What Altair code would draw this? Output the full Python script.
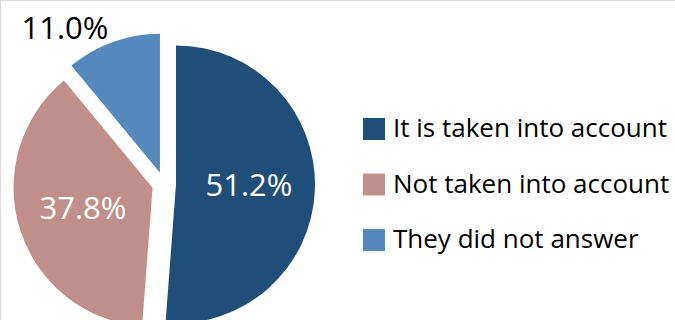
import altair as alt
import pandas as pd

categories = ["It is taken into account", "Not taken into account", "They did not answer"]
shares = [51.2, 37.8, 11.0]
labels = ["51.2%", "37.8%", "11.0%"]
colors = ["#1f4e79", "#c08f89", "#5589be"]
order = [0, 1, 2]

df = pd.DataFrame({"category": categories, "share": shares, "label": labels, "order": order})

CX, CY = 164, 184      # pie centre (pixels)
R = 139                # outer radius
EXPLODE = 12           # explode distance
R_IN = 73              # inner label radius
R_OUT = 152            # outer label radius
FONT = "Open Sans"

base = (
    alt.Chart(df)
    .transform_window(cum="sum(share)", sort=[alt.SortField("order")], frame=[None, 0])
    .transform_joinaggregate(total="sum(share)")
    .transform_calculate(
        a0="2*PI*(datum.cum - datum.share)/datum.total",
        a1="2*PI*datum.cum/datum.total",
    )
    .transform_calculate(mid="(datum.a0 + datum.a1)/2")
    .transform_calculate(
        cx=f"{CX} + {EXPLODE}*sin(datum.mid)",
        cy=f"{CY} - {EXPLODE}*cos(datum.mid)",
    )
    .transform_calculate(
        lx_in=f"datum.cx + {R_IN}*sin(datum.mid)",
        ly_in=f"datum.cy - {R_IN}*cos(datum.mid)",
        lx_out=f"datum.cx + {R_OUT}*sin(datum.mid)",
        ly_out=f"datum.cy - {R_OUT}*cos(datum.mid)",
    )
)

arcs = base.mark_arc(outerRadius=R, strokeWidth=0).encode(
    theta=alt.Theta("a0:Q", scale=None),
    theta2="a1:Q",
    x=alt.X("cx:Q", scale=None),
    y=alt.Y("cy:Q", scale=None),
    color=alt.Color(
        "category:N",
        scale=alt.Scale(domain=categories, range=colors),
        legend=alt.Legend(
            title=None,
            orient="none",
            legendX=361,
            legendY=116,
            symbolType="square",
            symbolSize=484,
            symbolStrokeWidth=0,
            symbolOpacity=1,
            labelFontSize=26,
            labelFont=FONT,
            labelColor="#000000",
            labelOffset=6,
            rowPadding=29.5,
            labelLimit=400,
        ),
    ),
    order=alt.Order("order:Q"),
)

inner = base.transform_filter("datum.share >= 15").mark_text(
    fontSize=31, font=FONT, color="white", align="center", baseline="middle"
).encode(
    x=alt.X("lx_in:Q", scale=None),
    y=alt.Y("ly_in:Q", scale=None),
    text="label:N",
)

outer = base.transform_filter("datum.share < 15").mark_text(
    fontSize=31, font=FONT, color="black", align="right", baseline="middle"
).encode(
    x=alt.X("lx_out:Q", scale=None),
    y=alt.Y("ly_out:Q", scale=None),
    text="label:N",
)

chart = (
    alt.layer(arcs, inner, outer)
    .properties(width=675, height=320, autosize=alt.AutoSizeParams(type="none"), padding=0)
    .configure_view(strokeWidth=0, stroke="transparent")
    .configure(font=FONT, background="white")
)

chart.save("out.html", embed_options={"renderer": "svg", "actions": False})
